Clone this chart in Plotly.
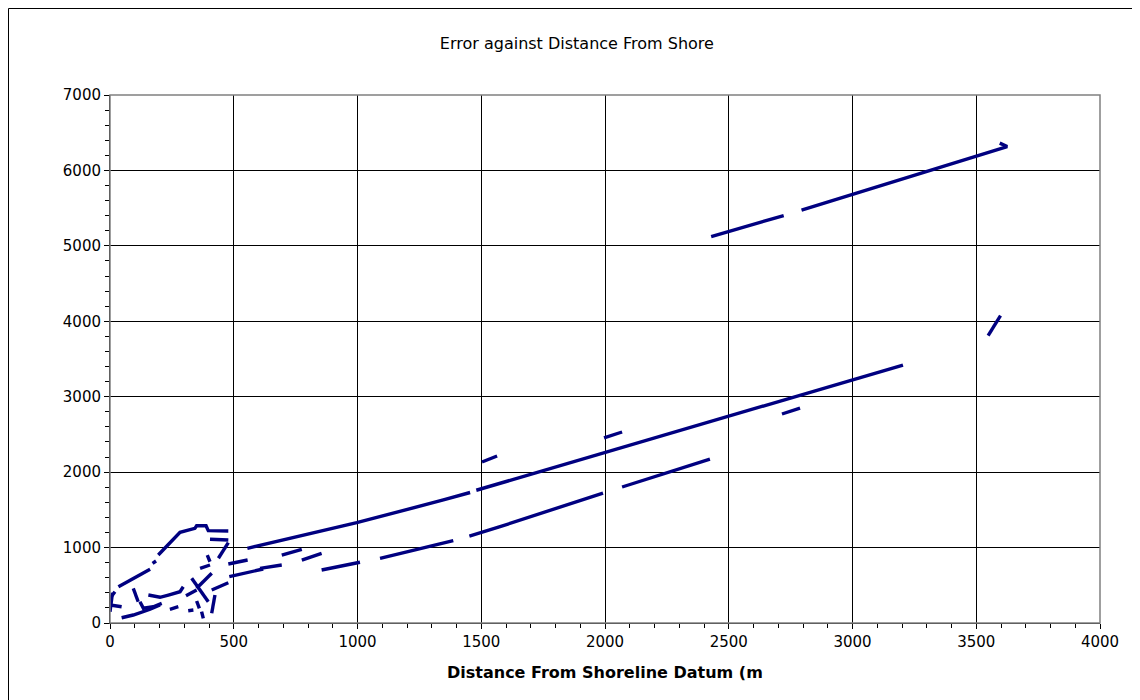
import plotly.graph_objects as go

# ---- data (distance from shoreline datum, error) ----
far_x = [2429, 2722, None, 2794, 3625, 3595]
far_y = [5123, 5402, None, 5473, 6317, 6362]

spike_x = [3548, 3598]
spike_y = [3811, 4076]

main_x = [555, 768, 997, 1347, 1455, None, 1480, 2000, 2600, 3204]
main_y = [990, 1153, 1330, 1631, 1730, None, 1760, 2262, 2840, 3420]

lower_x = [1091, 1387, None, 1452, 1576, 1992, None, 2069, 2424]
lower_y = [858, 1091, None, 1153, 1277, 1723, None, 1803, 2174]

dash_x = [855, 1010, None, 775, 855, None, 694, 775, None, 606, 694, None,
          478, 556, None, 482, 619, None, 1503, 1564, None, 1996, 2069, None,
          2715, 2788]
dash_y = [703, 805, None, 835, 924, None, 901, 977, None, 725, 769, None,
          782, 835, None, 614, 716, None, 2134, 2214, None, 2453, 2532, None,
          2771, 2850]

near_x = [0, 20, None, 34, 162, None, 172, 186, None, 195, 267, 283, 343, 350,
          388, 397, 478, None, 404, 478, None, 478, 438]
near_y = [327, 415, None, 481, 712, None, 791, 822, None, 901, 1153, 1202, 1255,
          1290, 1290, 1224, 1220, None, 1110, 1100, None, 1065, 858]

clutter_x = [0, 47, None, 0, 10, None, 47, 94, 162, 202, None, 94, 114, None,
             121, 135, 175, 209, None, 155, 202, 236, 283, 296, None, 242, 276,
             None, 316, 337, None, 307, 350, None, 330, 397, None, 350, 411, None,
             364, 404, None, 393, 404, None, 411, 478, None, 424, 411, None,
             350, 361, None, 370, 377]
clutter_y = [239, 216, None, 150, 400, None, 70, 106, 182, 239, None, 460, 282, None,
             282, 195, 216, 261, None, 371, 341, 371, 415, 481, None, 182, 216,
             None, 163, 172, None, 362, 437, None, 593, 282, None, 460, 659, None,
             725, 769, None, 901, 812, None, 437, 534, None, 371, 129, None,
             292, 195, None, 150, 62]

x_ticks = [0, 500, 1000, 1500, 2000, 2500, 3000, 3500, 4000]
y_ticks = [0, 1000, 2000, 3000, 4000, 5000, 6000, 7000]

LINE = dict(color="#000080", width=3.4)
FONT = "DejaVu Sans"

fig = go.Figure()
for xs, ys in [(far_x, far_y), (spike_x, spike_y), (main_x, main_y),
               (lower_x, lower_y), (dash_x, dash_y), (near_x, near_y),
               (clutter_x, clutter_y)]:
    fig.add_trace(go.Scatter(x=xs, y=ys, mode="lines", line=LINE,
                             connectgaps=False, showlegend=False,
                             hoverinfo="skip"))

# figure is drawn 8px in from the page corner
W, H = 1140, 700
L, T = 102, 87
R = W - 1092
B = H - 615
pw, ph = W - L - R, H - T - B

def px(p):
    return (p - L) / pw

def py(p):
    return (H - B - p) / ph

fig.update_layout(
    width=W, height=H,
    margin=dict(l=L, r=R, t=T, b=B),
    paper_bgcolor="white", plot_bgcolor="white",
    font=dict(family=FONT, size=15, color="black"),
    title=dict(text="Error against Distance From Shore", x=0.499, xref="container",
               y=1 - 35 / H, yref="container", xanchor="center", yanchor="middle",
               font=dict(family=FONT, size=16, color="black")),
    xaxis=dict(range=[0, 4000], tickvals=x_ticks, showgrid=True,
               gridcolor="#000000", gridwidth=1, zeroline=False,
               showline=True, linecolor="#000000", linewidth=1, mirror=False,
               ticks="outside", ticklen=5, tickcolor="black",
               minor=dict(dtick=100, ticks="outside", ticklen=4, tickcolor="black",
                          showgrid=False),
               tickfont=dict(size=15)),
    yaxis=dict(range=[0, 7000], tickvals=y_ticks, showgrid=True,
               gridcolor="#000000", gridwidth=1, zeroline=False,
               showline=True, linecolor="#000000", linewidth=1,
               ticks="outside", ticklen=5, tickcolor="black",
               minor=dict(dtick=200, ticks="outside", ticklen=4, tickcolor="black",
                          showgrid=False),
               tickfont=dict(size=15)),
    shapes=[
        dict(type="rect", xref="paper", yref="paper", x0=0, x1=1, y0=0, y1=1,
             line=dict(color="#808080", width=1.5), layer="above"),
        dict(type="rect", xref="paper", yref="paper", x0=px(0.5), x1=px(W + 20),
             y0=py(H + 20), y1=py(0.5), line=dict(color="#000000", width=1)),
    ],
    annotations=[
        dict(text="<b>Distance From Shoreline Datum (m</b>", xref="paper",
             yref="paper", x=0.5, y=py(664), xanchor="center", yanchor="middle",
             showarrow=False, font=dict(family=FONT, size=16, color="black")),
    ],
)

fig.write_html("out.html")
